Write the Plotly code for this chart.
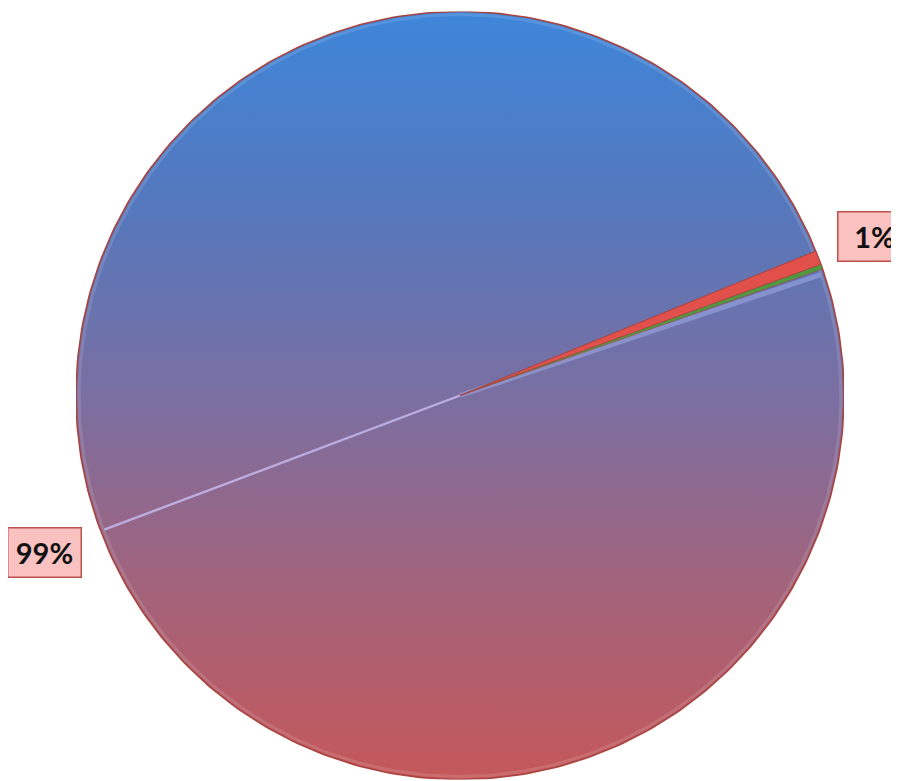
import numpy as np
import plotly.graph_objects as go

# ---- data ----
labels = ["Series B", "Series C", "Series A"]
values = [0.6, 0.2, 99.2]
slice_colors = ["#e2504c", "#4f9a3e", "rgba(0,0,0,0)"]
show_label = [True, False, True]

# ---- geometry / style ----
W, H = 899, 781
cx_px, cy_px, r_px = 452, 387.5, 384   # page has an 8px body margin
start_angle = 67.9          # clockwise from 12 o'clock
label_radius = 1.156

dom_x = [(cx_px - r_px) / W, (cx_px + r_px) / W]
dom_y = [(H - cy_px - r_px) / H, (H - cy_px + r_px) / H]

total = sum(values)
fracs = [v / total for v in values]
starts = start_angle + 360 * np.concatenate([[0], np.cumsum(fracs)[:-1]])
mids = starts + 360 * np.array(fracs) / 2
ends = starts + 360 * np.array(fracs)

fig = go.Figure()

# gradient body of the pie
t = np.linspace(0, 2 * np.pi, 361)
fig.add_trace(go.Scatter(
    x=np.cos(t), y=np.sin(t), mode="lines", fill="toself",
    line=dict(color="#a9433f", width=1.6),
    fillgradient=dict(type="vertical",
                      colorscale=[[0, "#c5585a"], [0.25, "#a3637b"], [0.5, "#7a6fa2"],
                                  [0.75, "#5578bd"], [1, "#3e86da"]]),
    hoverinfo="skip", showlegend=False))

# subtle inner highlight near the rim
fig.add_trace(go.Scatter(
    x=0.992 * np.cos(t), y=0.992 * np.sin(t), mode="lines",
    line=dict(color="rgba(255,255,255,0.12)", width=3),
    hoverinfo="skip", showlegend=False))

# soft bevel highlights along slice seams (derived from slice angles)
def ray(angle_deg, r0=0.0, r1=0.99):
    a = np.radians(angle_deg)
    return [r0 * np.sin(a), r1 * np.sin(a)], [r0 * np.cos(a), r1 * np.cos(a)]

big = len(values) - 1
for ang, col, w in [(mids[big], "rgba(200,190,245,0.8)", 2.4),
                    (ends[1] + 0.7, "rgba(170,185,245,0.45)", 5)]:
    xs, ys = ray(ang)
    fig.add_trace(go.Scatter(x=xs, y=ys, mode="lines",
                             line=dict(color=col, width=w),
                             hoverinfo="skip", showlegend=False))

fig.add_trace(go.Pie(
    labels=labels, values=values, sort=False, direction="clockwise",
    rotation=start_angle, textinfo="none", hoverinfo="label+percent",
    marker=dict(colors=slice_colors,
                line=dict(color="#a9433f", width=[1, 0.6, 0])),
    domain=dict(x=dom_x, y=dom_y), showlegend=False))

annotations = []
for frac, m, show in zip(fracs, mids, show_label):
    if not show:
        continue
    a = np.radians(m)
    lx, ly = label_radius * np.sin(a), label_radius * np.cos(a)
    annotations.append(dict(
        x=dom_x[0] + (1 + lx) / 2 * (dom_x[1] - dom_x[0]),
        y=dom_y[0] + (1 + ly) / 2 * (dom_y[1] - dom_y[0]),
        xref="paper", yref="paper", showarrow=False,
        text=f"<b>{round(frac * 100)}%</b>",
        font=dict(family="Lato", size=29, color="#111111"),
        bgcolor="#f9c2c1", bordercolor="#c0504d", borderwidth=1.5,
        borderpad=0, width=72, height=48,
        xanchor="center", yanchor="middle"))

fig.update_layout(
    width=W, height=H, margin=dict(l=0, r=0, t=0, b=0),
    paper_bgcolor="white", plot_bgcolor="rgba(0,0,0,0)",
    xaxis=dict(domain=dom_x, range=[-1, 1], visible=False, fixedrange=True),
    yaxis=dict(domain=dom_y, range=[-1, 1], visible=False, fixedrange=True),
    annotations=annotations,
)

fig.write_html("out.html")
